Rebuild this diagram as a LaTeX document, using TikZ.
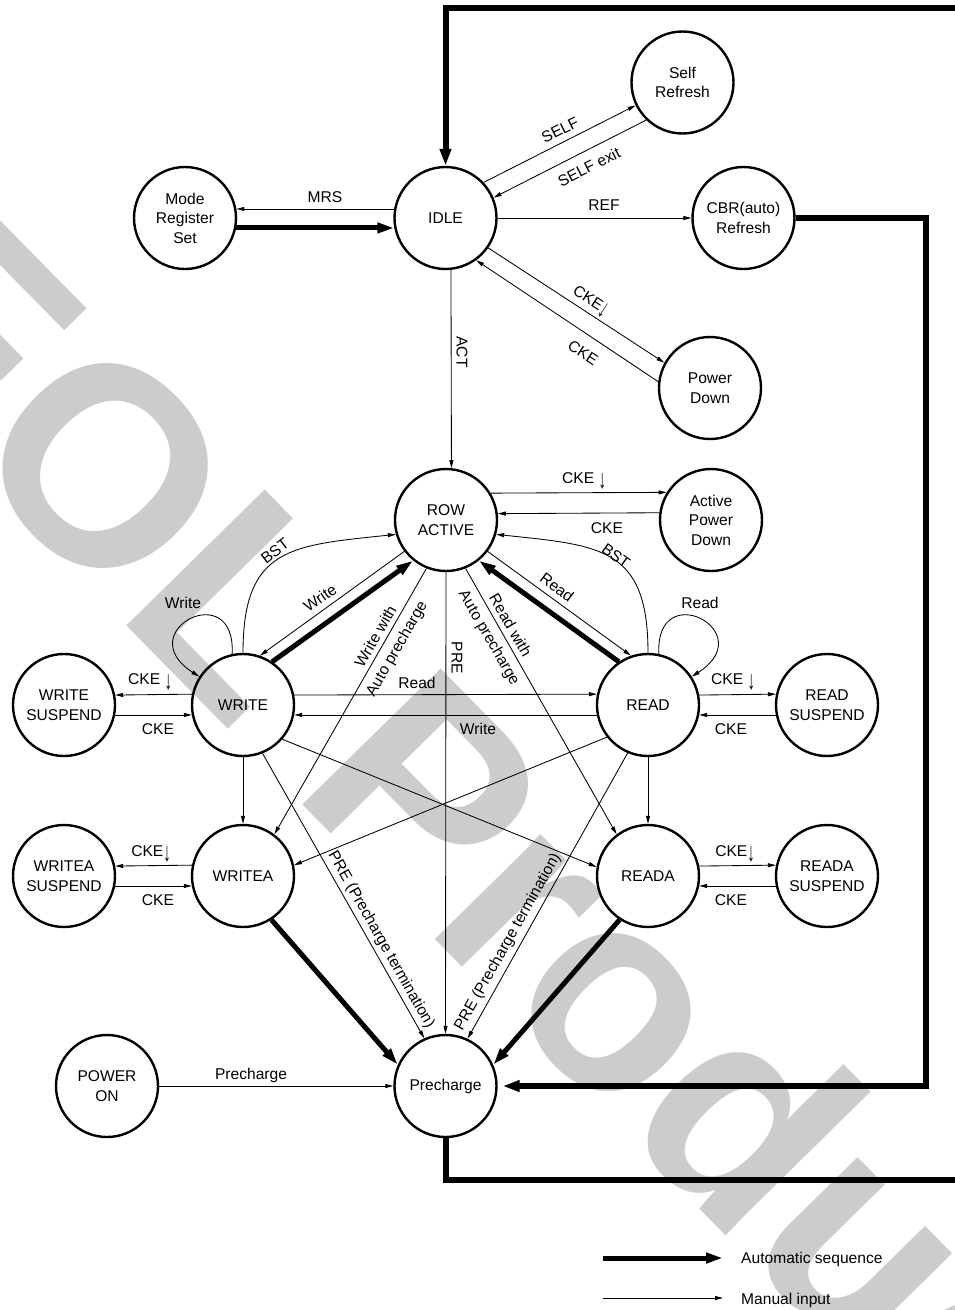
\documentclass[tikz,border=0pt]{standalone}
\usepackage{fontspec}
\setmainfont{Liberation Sans}
\usetikzlibrary{arrows.meta}
\newcommand{\dnarr}{\raisebox{-4.5pt}{\scalebox{0.95}[1.7]{↓}}}
\begin{document}
\begin{tikzpicture}[x=1pt,y=1pt,
  st/.style={circle, draw, line width=2.4pt, minimum size=102pt, inner sep=0pt, align=center, font=\fontsize{15.6}{19.5}\selectfont},
  lbl/.style={inner sep=1pt, font=\fontsize{15.6}{19.5}\selectfont, align=center},
  lbltwo/.style={inner sep=1pt, font=\fontsize{15.6}{24}\selectfont, align=center},
  manarr/.style={line width=0.85pt, -{Triangle[length=8pt,width=4pt]}},
  autoarr/.style={line width=5pt, -{Triangle[length=17pt,width=10pt]}},
  loopline/.style={line width=6pt, line join=miter},
  wm/.style={inner sep=0pt, text=black!20, font=\bfseries\fontsize{282}{290}\selectfont}
]
\useasboundingbox (0,0) rectangle (954,-1310);
% watermark
\node[wm, rotate=-45.5, anchor=base west] (wmark) at (-172,-322) {EOL Product};

% states
\node[st] (mrs) at (185,-218) {Mode\\Register\\Set};
\node[st] (idle) at (445.5,-218) {IDLE};
\node[st] (sr) at (682.5,-82.5) {Self\\Refresh};
\node[st] (cbr) at (743.5,-218) {CBR(auto)\\Refresh};
\node[st] (pd) at (710,-388) {Power\\Down};
\node[st] (ra) at (446,-520) {ROW\\ACTIVE};
\node[st] (apd) at (711,-520) {Active\\Power\\Down};
\node[st] (write) at (243,-705) {WRITE};
\node[st] (ws) at (64,-705) {WRITE\\SUSPEND};
\node[st] (read) at (648,-705) {READ};
\node[st] (rs) at (827,-705) {READ\\SUSPEND};
\node[st] (writea) at (243,-876) {WRITEA};
\node[st] (was) at (64,-876) {WRITEA\\SUSPEND};
\node[st] (reada) at (648,-876) {READA};
\node[st] (ras) at (827,-876) {READA\\SUSPEND};
\node[st] (pre) at (445.5,-1086) {Precharge};
\node[st] (pon) at (107,-1086) {POWER\\ON};

% IDLE region
\draw[manarr] (idle.170) -- (mrs.10);
\draw[autoarr] (mrs.-11) -- (idle.191);
\draw[manarr] (idle.43) -- (sr.206);
\draw[manarr] (sr.226) -- (idle.23);
\draw[manarr] (idle.east) -- (cbr.west);
\draw[manarr] (idle.-35) -- (pd.151);
\draw[manarr] (pd.173) -- (idle.-54);
\draw[manarr] (idle.-84) -- (ra.84);

% ROW ACTIVE
\draw[manarr] (ra.31.6) -- (apd.148.4);
\draw[manarr] (apd.172.2) -- (ra.7.8);
\draw[manarr] (ra.217) -- (write.71);
\draw[autoarr] (write.56) -- (ra.231);
\draw[manarr] (write.90) to[out=90,in=186,looseness=1.4] (ra.196);
\draw[manarr] (write.102) .. controls +(4,78) and +(-70,45) .. (write.147);
\draw[manarr] (ra.-37) -- (read.109);
\draw[autoarr] (read.124) -- (ra.-51);
\draw[manarr] (read.90) to[out=90,in=-6,looseness=1.4] (ra.-16);
\draw[manarr] (read.78) .. controls +(-4,78) and +(70,45) .. (read.33);

% WRITE / READ
\draw[manarr] (write.11.2) -- (read.168.8);
\draw[manarr] (read.191.2) -- (write.-11.2);
\draw[manarr] (write.168.8) -- (ws.11.2);
\draw[manarr] (ws.-11.2) -- (write.191.2);
\draw[manarr] (read.11.2) -- (rs.168.8);
\draw[manarr] (rs.191.2) -- (read.-11.2);
\draw[manarr] (writea.168.8) -- (was.11.2);
\draw[manarr] (was.-11.2) -- (writea.191.2);
\draw[manarr] (reada.11.2) -- (ras.168.8);
\draw[manarr] (ras.191.2) -- (reada.-11.2);
\draw[manarr] (write.south) -- (writea.north);
\draw[manarr] (read.south) -- (reada.north);

% crossings
\draw[manarr] (write.-41) -- (reada.170);
\draw[manarr] (read.-142) -- (writea.12.5);
\draw[manarr] (ra.248) -- (writea.53);
\draw[manarr] (ra.-68) -- (reada.127.5);
\draw[manarr] (ra.south) -- (pre.north);
\draw[manarr] (write.-68) -- (pre.114.7);
\draw[manarr] (read.-113) -- (pre.65.3);
\draw[autoarr] (writea.-57) -- (pre.156);
\draw[autoarr] (reada.-123) -- (pre.24);
\draw[manarr] (pon.east) -- (pre.west);

% big loops
\coordinate (cbrturn) at (926,-1086);
\draw[loopline, -{Triangle[length=17pt,width=11pt]}, shorten >=5pt] (cbr.east) -| (cbrturn) -- (pre.east);
\coordinate (botR) at (962,-1180);
\coordinate (topR) at (962,-8);
\draw[loopline, -{Triangle[length=17pt,width=11pt]}] (pre.south) |- (botR) -- (topR) -| (idle.north);

% legend
\coordinate (l1a) at (603,-1258);
\coordinate (l1b) at (723,-1258);
\coordinate (l2a) at (603,-1298);
\coordinate (l2b) at (723,-1298);
\draw[autoarr] (l1a) -- (l1b);
\draw[manarr] (l2a) -- (l2b);
\node[lbl, anchor=west] (l1t) at (740,-1259) {Automatic sequence};
\node[lbl, anchor=west] (l2t) at (740,-1300) {Manual input};

% labels
\node[lbl] (lmrs) at (325,-197) {MRS};
\node[lbl, rotate=26.6] (lself) at (560,-130) {SELF};
\node[lbl, rotate=26.6] (lselfx) at (589,-167) {SELF exit};
\node[lbl] (lref) at (604,-205) {REF};
\node[lbl, rotate=-33] (lpd1) at (590,-302) {CKE\dnarr};
\node[lbl, rotate=-33] (lpd2) at (583,-353) {CKE};
\node[lbl, rotate=-90] (lact) at (462,-352) {ACT};
\node[lbl] (lapd1) at (584,-481) {CKE \dnarr};
\node[lbl] (lapd2) at (607,-528) {CKE};
\node[lbl, rotate=37] (lbst1) at (275,-551) {BST};
\node[lbl, rotate=35] (lw1) at (320,-598) {Write};
\node[lbl] (lwl) at (183,-603) {Write};
\node[lbl, rotate=-36] (lbst2) at (616,-556) {BST};
\node[lbl, rotate=-37] (lr1) at (557,-587) {Read};
\node[lbl] (lrl) at (700,-603) {Read};
\node[lbl] (lr2) at (417,-683) {Read};
\node[lbl] (lw2) at (478,-729) {Write};
\node[lbl] (lws1) at (150,-682) {CKE \dnarr};
\node[lbl] (lws2) at (158,-729) {CKE};
\node[lbl] (lwas1) at (151,-854) {CKE\dnarr};
\node[lbl] (lwas2) at (158,-900) {CKE};
\node[lbl] (lrs1) at (733,-682) {CKE \dnarr};
\node[lbl] (lrs2) at (731,-729) {CKE};
\node[lbl] (lras1) at (735,-854) {CKE\dnarr};
\node[lbl] (lras2) at (731,-900) {CKE};
\node[lbltwo, rotate=60] (lwwa) at (387,-643) {Write with\\Auto precharge};
\node[lbltwo, rotate=-60] (lrwa) at (499,-632) {Read with\\Auto precharge};
\node[lbl, rotate=-90] (lpre) at (457,-658) {PRE};
\node[lbl, rotate=-60.4] (lpt1) at (381,-940) {PRE (Precharge termination)};
\node[lbl, rotate=60.6] (lpt2) at (508,-942) {PRE (Precharge termination)};
\node[lbl] (lpon) at (251,-1075) {Precharge};
\end{tikzpicture}
\end{document}
